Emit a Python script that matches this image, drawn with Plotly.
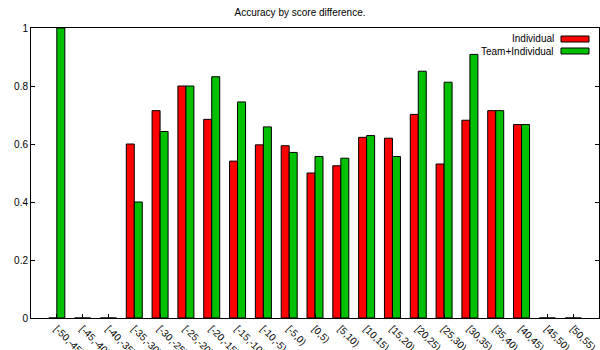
import plotly.graph_objects as go

# Score-difference buckets and accuracy of each model per bucket
buckets = ["[-50,-45)", "[-45,-40)", "[-40,-35)", "[-35,-30)", "[-30,-25)",
           "[-25,-20)", "[-20,-15)", "[-15,-10)", "[-10,-5)", "[-5,0)",
           "[0,5)", "[5,10)", "[10,15)", "[15,20)", "[20,25)", "[25,30)",
           "[30,35)", "[35,40)", "[40,45)", "[45,50)", "[50,55)"]
individual = [0.0, 0.0, 0.0, 0.6, 0.715, 0.8, 0.685, 0.541, 0.597, 0.594,
              0.5, 0.525, 0.623, 0.620, 0.702, 0.531, 0.682, 0.715, 0.667,
              0.0, 0.0]
team_individual = [1.0, 0.0, 0.0, 0.4, 0.643, 0.8, 0.832, 0.745, 0.659, 0.571,
                   0.557, 0.551, 0.629, 0.557, 0.851, 0.813, 0.909, 0.715, 0.667,
                   0.0, 0.0]
y_ticks = [0, 0.2, 0.4, 0.6, 0.8, 1]
y_tick_text = ["0", "0.2", "0.4", "0.6", "0.8", "1"]

RED = "#ff0000"
GREEN = "#00c000"
FONT = "Liberation Sans, Arial, sans-serif"

W, H = 600, 350
ML, MR, MT, MB = 31, 1, 28, 32
PW, PH = W - ML - MR, H - MT - MB


def px(x):
    return (x - ML) / PW


def py(y):
    return 1 - (y - MT) / PH


fig = go.Figure()
for name, vals, col in [("Individual", individual, RED),
                        ("Team+Individual", team_individual, GREEN)]:
    fig.add_trace(go.Bar(
        x=buckets, y=vals, name=name,
        marker=dict(color=col, line=dict(color="#000000", width=1)),
        showlegend=False,
    ))

# Legend drawn with the label to the left of its colour swatch
shapes = []
annotations = []
for i, (name, col) in enumerate([("Individual", RED), ("Team+Individual", GREEN)]):
    y0 = 36 + 12 * i
    shapes.append(dict(type="rect", xref="paper", yref="paper",
                       x0=px(561), x1=px(589), y0=py(y0 + 6), y1=py(y0),
                       fillcolor=col, line=dict(color="#000000", width=1)))
    annotations.append(dict(xref="paper", yref="paper", x=px(556), y=py(y0 + 3),
                            text=name, showarrow=False, xanchor="right",
                            yanchor="middle",
                            font=dict(family=FONT, size=10, color="#000000")))

fig.update_layout(
    width=W, height=H,
    margin=dict(l=ML, r=MR, t=MT, b=MB, pad=0, autoexpand=False),
    paper_bgcolor="white", plot_bgcolor="white",
    barmode="group", bargap=0.38, bargroupgap=0.0,
    title=dict(text="Accuracy by score difference.", x=px(315), xanchor="center",
               y=1 - 12 / H, yanchor="middle",
               font=dict(family=FONT, size=10, color="#000000")),
    font=dict(family=FONT, size=10, color="#000000"),
    shapes=shapes, annotations=annotations,
    showlegend=False,
)
fig.update_xaxes(
    type="category", range=[-1, 21], automargin=False,
    showline=True, linecolor="#000000", linewidth=1, mirror=True,
    ticks="inside", ticklen=4, tickcolor="#000000",
    tickangle=45, showgrid=False,
    tickfont=dict(family=FONT, size=10, color="#000000"),
)
fig.update_yaxes(
    range=[0, 1], tickvals=y_ticks, ticktext=y_tick_text, automargin=False,
    showline=True, linecolor="#000000", linewidth=1, mirror="ticks",
    ticks="inside", ticklen=4, tickcolor="#000000",
    showgrid=False, zeroline=False,
    tickfont=dict(family=FONT, size=10, color="#000000"),
)

fig.write_html("out.html")
